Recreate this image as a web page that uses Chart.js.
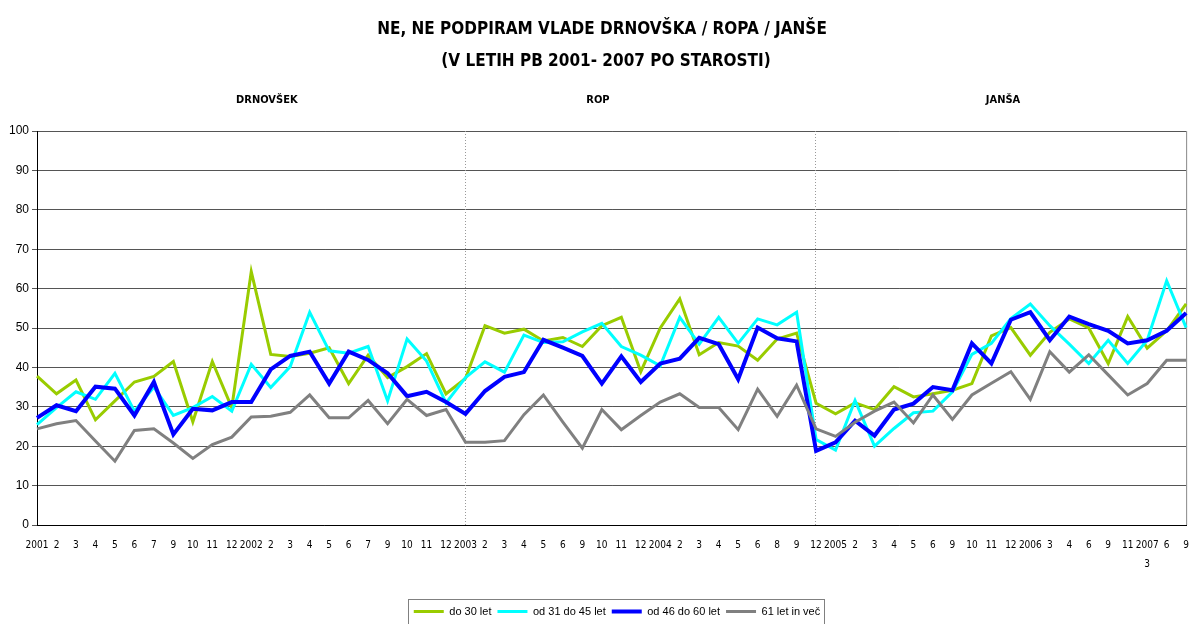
<!DOCTYPE html>
<html>
<head>
<meta charset="utf-8">
<script src="https://cdn.jsdelivr.net/npm/chart.js@4"></script>
<style>
  html, body { margin: 0; padding: 0; background: #fff; overflow: hidden; }
  #wrap { width: 1200px; height: 640px; }
</style>
</head>
<body>
<div id="wrap"><canvas id="chart" width="1200" height="640"></canvas></div>
<script>
const labels = ['2001','2','3','4','5','6','7','9','10','11','12',
  '2002','2','3','4','5','6','7','9','10','11','12',
  '2003','2','3','4','5','6','9','10','11','12',
  '2004','2','3','4','5','6','8','9','12',
  '2005','2','3','4','5','6','9','10','11','12',
  '2006','3','4','6','9','11',['2007','3'],'6','9'];

const do30 = [37.8,33.3,36.8,26.7,31.5,36.3,37.7,41.5,26.2,41.5,29.8,64.3,
  43.3,42.8,43.6,45,35.9,43.1,37.4,40.2,43.5,33.3,37.2,50.6,
  48.7,49.7,46.7,47.6,45.3,50.6,52.7,38.9,50,57.4,43.2,
  46.3,45.4,41.8,47.2,48.7,30.9,28.2,31,29.3,35.1,32.5,33.3,
  34.2,35.9,48,50.1,43.1,48.9,52.3,50,41,52.9,44.9,49.3,56.1];

const od31do45 = [25.5,29.8,33.8,31.9,38.5,28.9,35,27.8,29.8,32.6,28.9,40.8,
  34.9,40.2,54,44.2,43.6,45.3,31.5,47.2,41.6,31,37.4,41.4,
  38.8,48.2,46.3,46.5,49,51.2,45.3,43.1,40.4,52.7,45.9,
  52.7,46.1,52.3,50.8,54,21.7,19,31.6,20,24.5,28.5,28.9,
  33.8,43.3,46.1,52.4,56.1,50.6,45.9,41,46.9,41,46.9,62,50.1];

const od46do60 = [27.2,30.4,28.9,35.1,34.6,27.8,36.3,23,29.5,29.1,31.2,31.2,
  39.5,42.9,44,35.9,44,41.9,38.5,32.7,33.8,31.2,28.2,34,
  37.6,38.8,47,45,42.9,35.9,42.8,36.3,41,42.2,47.5,
  45.9,37,50.1,47.4,46.6,18.8,21,26.5,22.7,29.3,30.8,35,
  34.2,46.1,41,52.1,54,46.9,52.9,51,49.3,46.1,46.9,49.3,53.8];

const nad61 = [24.4,25.7,26.5,21.3,16.2,24,24.4,20.8,16.9,20.4,22.3,27.4,
  27.6,28.6,33,27.2,27.2,31.6,25.7,31.9,27.8,29.3,21,21,
  21.4,28,33,26.1,19.5,29.3,24.2,27.8,31.2,33.3,29.8,
  29.8,24.2,34.5,27.6,35.5,24.4,22.5,26.1,28.9,31.2,25.9,33,
  26.8,33,36,38.9,31.9,44,38.8,43.2,38.1,33,35.9,41.8,41.8];

const titleLines = ['NE, NE PODPIRAM VLADE DRNOVŠKA / ROPA / JANŠE', '(V LETIH PB 2001- 2007 PO STAROSTI)'];
const periods = ['DRNOVŠEK', 'ROP', 'JANŠA'];
const periodCenters = [11.8, 28.8, 49.6];   // category index where each name sits
const periodStarts = [22, 40];              // dotted separators

const narrow = "'Liberation Sans Narrow', 'Arial Narrow', 'DejaVu Sans Condensed', 'Liberation Sans', sans-serif";
const sans = "'Liberation Sans', Arial, sans-serif";

const decor = {
  id: 'decor',
  afterLayout(chart) {
    // legend sits a little right of the page centre
    chart.legend.left += 16;
    chart.legend.right += 16;
  },
  beforeDatasetsDraw(chart) {
    const { ctx, chartArea: a, scales: { x } } = chart;
    ctx.save();
    ctx.strokeStyle = '#999';
    ctx.lineWidth = 1;
    ctx.setLineDash([1, 2]);
    periodStarts.forEach(i => {
      const px = Math.round(x.getPixelForValue(i)) - 0.5;
      ctx.beginPath();
      ctx.moveTo(px, a.top);
      ctx.lineTo(px, a.bottom);
      ctx.stroke();
    });
    ctx.setLineDash([]);
    ctx.strokeStyle = '#888';
    ctx.beginPath();
    ctx.moveTo(a.right + 0.5, a.top);
    ctx.lineTo(a.right + 0.5, a.bottom);
    ctx.stroke();
    ctx.restore();
  },
  afterDraw(chart) {
    const { ctx, scales: { x } } = chart;
    ctx.save();
    ctx.fillStyle = '#000';
    ctx.textAlign = 'center';
    ctx.textBaseline = 'middle';
    ctx.font = 'bold 17px ' + narrow;
    ctx.fillText(titleLines[0], 602, 30);
    ctx.fillText(titleLines[1], 606, 62);
    ctx.font = 'bold 11px ' + narrow;
    periods.forEach((p, i) => ctx.fillText(p, x.getPixelForValue(periodCenters[i]), 100));

    // frame round the legend items
    const boxes = chart.legend.legendHitBoxes;
    if (boxes && boxes.length) {
      const l = Math.min(...boxes.map(b => b.left)) - 6;
      const r = Math.max(...boxes.map(b => b.left + b.width)) + 4;
      const t = Math.min(...boxes.map(b => b.top)) - 7;
      const btm = Math.max(...boxes.map(b => b.top + b.height)) + 8;
      ctx.strokeStyle = '#808080';
      ctx.lineWidth = 1;
      ctx.strokeRect(Math.round(l) + 0.5, Math.round(t) + 0.5, Math.round(r - l), Math.round(btm - t));
    }
    ctx.restore();
  }
};

const ctx = document.getElementById('chart').getContext('2d');
new Chart(ctx, {
  type: 'line',
  data: {
    labels: labels,
    datasets: [
      { label: 'do 30 let', data: do30, borderColor: '#99CC00', backgroundColor: '#99CC00', borderWidth: 3, order: 3 },
      { label: 'od 31 do 45 let', data: od31do45, borderColor: '#00FFFF', backgroundColor: '#00FFFF', borderWidth: 3, order: 2 },
      { label: 'od 46 do 60 let', data: od46do60, borderColor: '#0000FF', backgroundColor: '#0000FF', borderWidth: 4, order: 1 },
      { label: '61 let in več', data: nad61, borderColor: '#808080', backgroundColor: '#808080', borderWidth: 3, order: 0 }
    ]
  },
  options: {
    responsive: false,
    animation: false,
    devicePixelRatio: 1,
    layout: { padding: { top: 131, left: 6, right: 4, bottom: 13 } },
    elements: { point: { radius: 0 }, line: { tension: 0, borderJoinStyle: 'miter' } },
    plugins: {
      title: { display: false },
      tooltip: { enabled: false },
      legend: {
        position: 'bottom',
        labels: {
          usePointStyle: true,
          pointStyle: 'line',
          pointStyleWidth: 30,
          padding: 6,
          color: '#000',
          font: { family: sans, size: 11 },
          sort: (a, b) => a.datasetIndex - b.datasetIndex
        }
      }
    },
    scales: {
      x: {
        offset: false,
        grid: { display: false, drawTicks: false },
        border: { display: true, color: '#000', width: 1 },
        ticks: {
          autoSkip: false, maxRotation: 0, minRotation: 0,
          padding: 11,
          color: '#000',
          font: { family: narrow, size: 10, lineHeight: 1.9 }
        },
        afterFit: (scale) => { scale.height += 15; }
      },
      y: {
        min: 0, max: 100,
        grid: { color: '#555', lineWidth: 1, drawTicks: true, tickLength: 5, tickColor: '#555' },
        border: { display: true, color: '#000', width: 1 },
        ticks: { stepSize: 10, padding: 3, color: '#000', font: { family: sans, size: 12 } }
      }
    }
  },
  plugins: [decor]
});
</script>
</body>
</html>
